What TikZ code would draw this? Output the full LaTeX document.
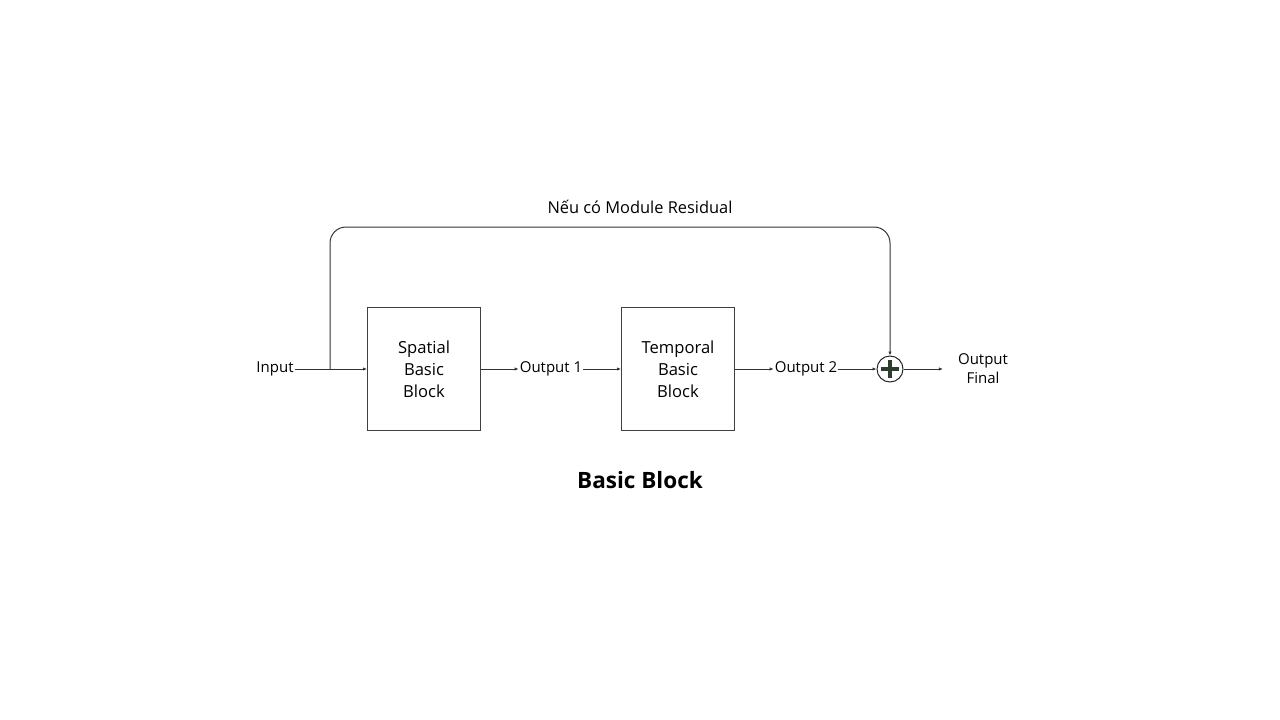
\documentclass[tikz,border=0pt]{standalone}
\usepackage{fontspec}
\setmainfont{Open Sans}
\usetikzlibrary{arrows.meta}
\definecolor{plusgreen}{RGB}{45,60,45}
\begin{document}
\begin{tikzpicture}[x=1pt, y=-1pt,
   blockbox/.style = {draw=black!75, line width=1pt, minimum width=113pt, minimum height=123pt,
                      align=center, font=\fontsize{16.6}{22}\selectfont},
   lbl/.style = {font=\fontsize{15}{19}\selectfont, align=center, inner sep=1pt},
   conn/.style = {-{Latex[length=4pt,width=3.4pt]}, draw=black!80, line width=1pt}]
   \useasboundingbox (0,0) rectangle (1280,720);
   % blocks
   \node[lbl] (inp) at (275,369) {Input};
   \node[blockbox] (spatial) at (424,369) {Spatial\\Basic\\Block};
   \node[lbl] (out1) at (551,369) {Output 1};
   \node[blockbox] (temporal) at (678,369) {Temporal\\Basic\\Block};
   \node[lbl] (out2) at (806,369) {Output 2};
   \node[draw=black!85, line width=1pt, circle, minimum size=26pt, inner sep=0pt] (sum) at (890,369) {};
   \draw[plusgreen, line width=3.4pt] ([xshift=-9pt]sum.center) -- ([xshift=9pt]sum.center);
   \draw[plusgreen, line width=3.4pt] ([yshift=-9pt]sum.center) -- ([yshift=9pt]sum.center);
   \node[lbl] (final) at (983,369) {Output\\Final};
   \node[lbl, font=\fontsize{16.4}{19}\selectfont] (resid) at (640,207) {Nếu có Module Residual};
   \node[font=\fontsize{22.5}{26}\selectfont\bfseries] (title) at (640,480) {Basic Block};
   % connectors
   \coordinate (split) at (330,369);
   \coordinate (top) at (640,227);
   \draw[black!80, line width=1pt] (inp) -- (split);
   \draw[conn] (split) -- (spatial);
   \draw[conn] (spatial) -- (out1);
   \draw[conn] (out1) -- (temporal);
   \draw[conn] (temporal) -- (out2);
   \draw[conn] (out2) -- (sum);
   \draw[conn, shorten >=14pt] (sum) -- (final);
   \draw[conn, rounded corners=16pt] (split) -- (split |- top) -- (sum |- top) -- (sum.north);
\end{tikzpicture}
\end{document}
